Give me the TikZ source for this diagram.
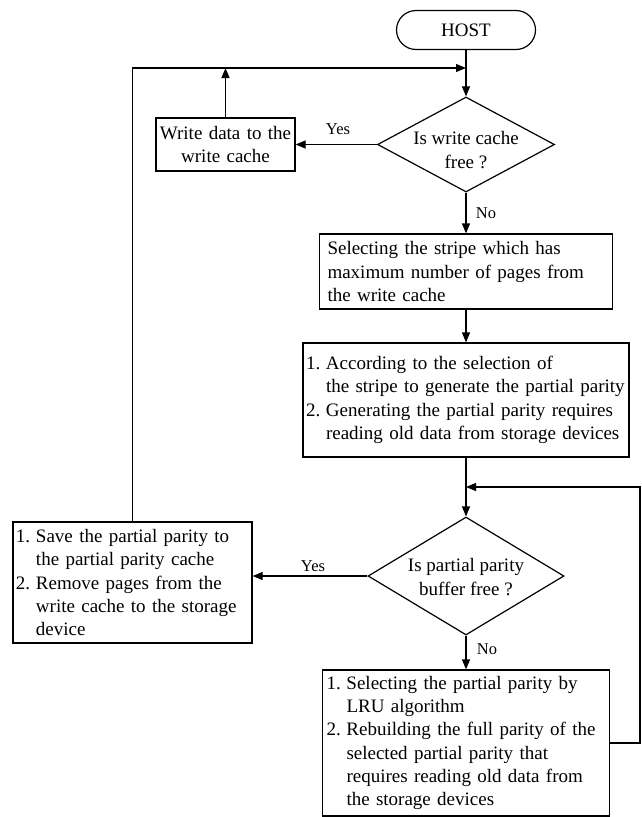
\documentclass[tikz,border=0pt]{standalone}
\usepackage{fontspec}
\setmainfont{Liberation Serif}
\usetikzlibrary{shapes.geometric,arrows.meta}
\begin{document}
\begin{tikzpicture}[x=1pt,y=-1pt,line width=1.2pt,
  every node/.style={font=\fontsize{19}{23.3}\selectfont},
  box/.style={draw,rectangle,inner ysep=0pt,align=left},
  dia/.style={draw,diamond,inner sep=0pt},
  lbl/.style={font=\fontsize{16.5}{20}\selectfont,inner sep=0pt},
  arr/.style={-{Triangle[length=10pt,width=8pt]}}]
\useasboundingbox (0,0) rectangle (642,817);
\fill[white] (0,0) rectangle (642,817);
\newcommand{\numi}[1]{\makebox[20pt][l]{#1}}
\newcommand{\cont}{\hspace*{20pt}}

\node[draw,rounded corners=19.5pt,minimum width=139pt,minimum height=39pt] (host) at (466,30) {HOST};
\node[dia,minimum width=177pt,minimum height=95pt] (d1) at (466,144.5) {};
\node[align=center,inner sep=0pt] (d1t) at (466,150) {Is write cache\\free ?};
\node[box,align=center,inner xsep=3pt,text width=133pt,minimum height=53pt] (w) at (225.5,144.5) {Write data to the\\write cache};
\node[box,inner xsep=8pt,text width=277pt,minimum height=75pt] (b2) at (466,271.5)
  {Selecting the stripe which has\\maximum number of pages from\\the write cache};
\node[box,inner xsep=3pt,text width=320pt,minimum height=114pt] (b3) at (466,400)
  {\numi{1.}According to the selection of\\\cont the stripe to generate the partial parity\\\numi{2.}Generating the partial parity requires\\\cont reading old data from storage devices};
\node[dia,minimum width=196pt,minimum height=118pt] (d2) at (466,576) {};
\node[align=center,inner sep=0pt] (d2t) at (466,577) {Is partial parity\\buffer free ?};
\node[box,inner xsep=3pt,text width=233pt,minimum height=121pt] (b5) at (132.5,582.5)
  {\numi{1.}Save the partial parity to\\\cont the partial parity cache\\\numi{2.}Remove pages from the\\\cont write cache to the storage\\\cont device};
\node[box,inner xsep=4pt,text width=279pt,minimum height=146pt] (b4) at (466,743)
  {\numi{1.}Selecting the partial parity by\\\cont LRU algorithm\\\numi{2.}Rebuilding the full parity of the\\\cont selected partial parity that\\\cont requires reading old data from\\\cont the storage devices};

\coordinate (j1) at (466,68);
\coordinate (j2) at (466,487);
\coordinate (rc) at (640,487);

\draw[arr] (host) -- (d1);
\draw[arr] (b5) |- (j1);
\draw[arr] (w) -- (w |- j1);
\draw[arr] (d1.west) -- (w.east);
\draw[arr] (d1) -- (b2);
\draw[arr] (b2) -- (b3);
\draw[arr] (b3) -- (d2);
\draw[arr] (b4.east) -| (rc) -- (j2);
\draw[arr] (d2.west) -- (d2.west -| b5.east);
\draw[arr] (d2) -- (b4);

\node[lbl] (y1) at (338,129) {Yes};
\node[lbl] (n1) at (486,213) {No};
\node[lbl] (y2) at (313,566) {Yes};
\node[lbl] (n2) at (487,649) {No};
\end{tikzpicture}
\end{document}
